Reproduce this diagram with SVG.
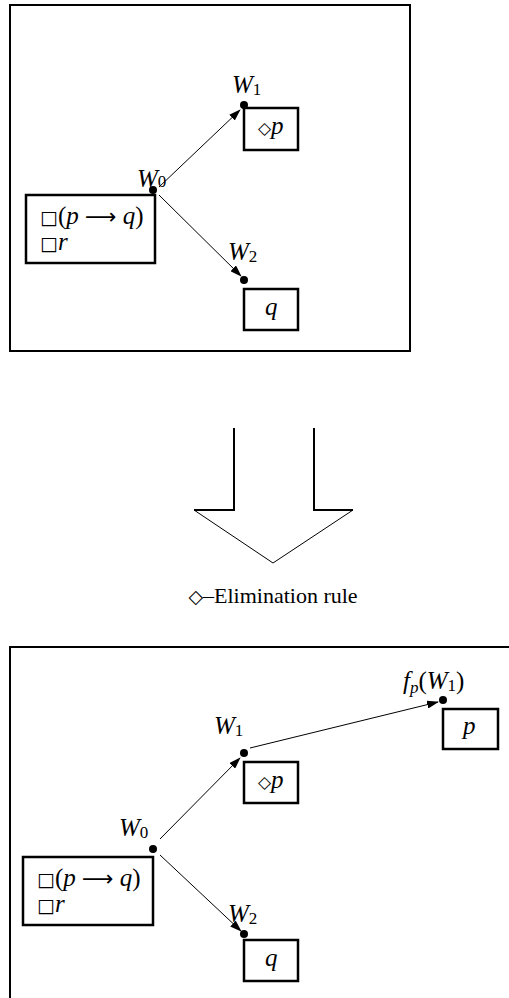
<svg xmlns="http://www.w3.org/2000/svg" width="509" height="998" viewBox="0 0 509 998">
<style>
.frame{fill:none;stroke:#000;stroke-width:2}
.box{fill:#fff;stroke:#000;stroke-width:2.5}
.dot{fill:#000}
.edge{fill:none;stroke:#000;stroke-width:1}
.t{font-family:"Liberation Serif","DejaVu Serif",serif;font-size:25px;fill:#000}
.i{font-style:italic}
.sub{font-size:17px}
.sym{font-family:"DejaVu Sans",sans-serif;font-size:19px}
.arr{font-family:"DejaVu Sans",sans-serif;font-size:22px}
.dia{font-family:"DejaVu Sans",sans-serif;font-size:17px}
.rule{font-family:"Liberation Serif","DejaVu Serif",serif;font-size:22px;fill:#000}
.bigarrow{fill:none;stroke:#000;stroke-width:2}
</style>
<defs>
<marker id="ah" markerUnits="userSpaceOnUse" markerWidth="12" markerHeight="8" refX="11" refY="4" orient="auto">
<path d="M0,0 L12,4 L0,8 Z" fill="#000"/>
</marker>
</defs>
<rect class="frame" x="10" y="5" width="400" height="346"/>
<rect class="frame" x="10" y="647" width="520" height="400"/>
<g id="connectors">
<line class="edge" x1="159" y1="187" x2="240" y2="110" marker-end="url(#ah)"/>
<line class="edge" x1="159" y1="195" x2="241" y2="276" marker-end="url(#ah)"/>
<line class="edge" x1="160" y1="839" x2="240" y2="758" marker-end="url(#ah)"/>
<line class="edge" x1="160" y1="855" x2="241" y2="931" marker-end="url(#ah)"/>
<line class="edge" x1="250" y1="748" x2="438" y2="702" marker-end="url(#ah)"/>
</g>
<g id="top-W0">
<rect class="box" x="26" y="195" width="129" height="68"/>
<text class="t" x="40" y="224"><tspan class="sym">□</tspan>(<tspan class="i">p</tspan> <tspan class="arr">⟶</tspan> <tspan class="i">q</tspan>)</text>
<text class="t" x="40" y="250"><tspan class="sym">□</tspan><tspan class="i">r</tspan></text>
<circle class="dot" cx="153" cy="190" r="4"/>
<text class="t i" x="137" y="187">W<tspan class="sub" font-style="normal">0</tspan></text>
</g>
<g id="top-W1">
<rect class="box" x="244" y="108" width="54" height="42"/>
<text class="t" x="258" y="134"><tspan class="dia">◇</tspan><tspan class="i">p</tspan></text>
<circle class="dot" cx="244" cy="105" r="4"/>
<text class="t i" x="232" y="93">W<tspan class="sub" font-style="normal" dy="2">1</tspan></text>
</g>
<g id="top-W2">
<rect class="box" x="244" y="289" width="54" height="41"/>
<text class="t i" x="265" y="315">q</text>
<circle class="dot" cx="244" cy="280" r="4"/>
<text class="t i" x="228" y="260">W<tspan class="sub" font-style="normal" dy="2">2</tspan></text>
</g>
<g id="bigarrow">
<path class="bigarrow" d="M234,428 L234,510 L194,510 M314,428 L314,510 L353,510"/>
<path class="edge" d="M194,510 L273,563 L353,510"/>
</g>
<g id="rule-label">
<text class="rule" x="273" y="603" text-anchor="middle"><tspan class="sym" font-size="20">◇</tspan>–Elimination rule</text>
</g>
<g id="bot-W0">
<rect class="box" x="23" y="857" width="130" height="68"/>
<text class="t" x="37" y="886"><tspan class="sym">□</tspan>(<tspan class="i">p</tspan> <tspan class="arr">⟶</tspan> <tspan class="i">q</tspan>)</text>
<text class="t" x="37" y="912"><tspan class="sym">□</tspan><tspan class="i">r</tspan></text>
<circle class="dot" cx="153" cy="849" r="4"/>
<text class="t i" x="119" y="836">W<tspan class="sub" font-style="normal" dy="2">0</tspan></text>
</g>
<g id="bot-W1">
<rect class="box" x="244" y="762" width="54" height="41"/>
<text class="t" x="258" y="788"><tspan class="dia">◇</tspan><tspan class="i">p</tspan></text>
<circle class="dot" cx="244" cy="753" r="4"/>
<text class="t i" x="214" y="734">W<tspan class="sub" font-style="normal" dy="2">1</tspan></text>
</g>
<g id="bot-W2">
<rect class="box" x="244" y="940" width="54" height="41"/>
<text class="t i" x="265" y="966">q</text>
<circle class="dot" cx="244" cy="934" r="4"/>
<text class="t i" x="228" y="922">W<tspan class="sub" font-style="normal" dy="2">2</tspan></text>
</g>
<g id="bot-fp">
<rect class="box" x="443" y="709" width="55" height="40"/>
<text class="t i" x="463" y="734">p</text>
<circle class="dot" cx="443" cy="700" r="4"/>
<text class="t" x="403" y="689"><tspan class="i">f</tspan><tspan class="sub i" dy="4">p</tspan><tspan dy="-4">(</tspan><tspan class="i">W</tspan><tspan class="sub" dy="2">1</tspan><tspan dy="-2">)</tspan></text>
</g>
</svg>
